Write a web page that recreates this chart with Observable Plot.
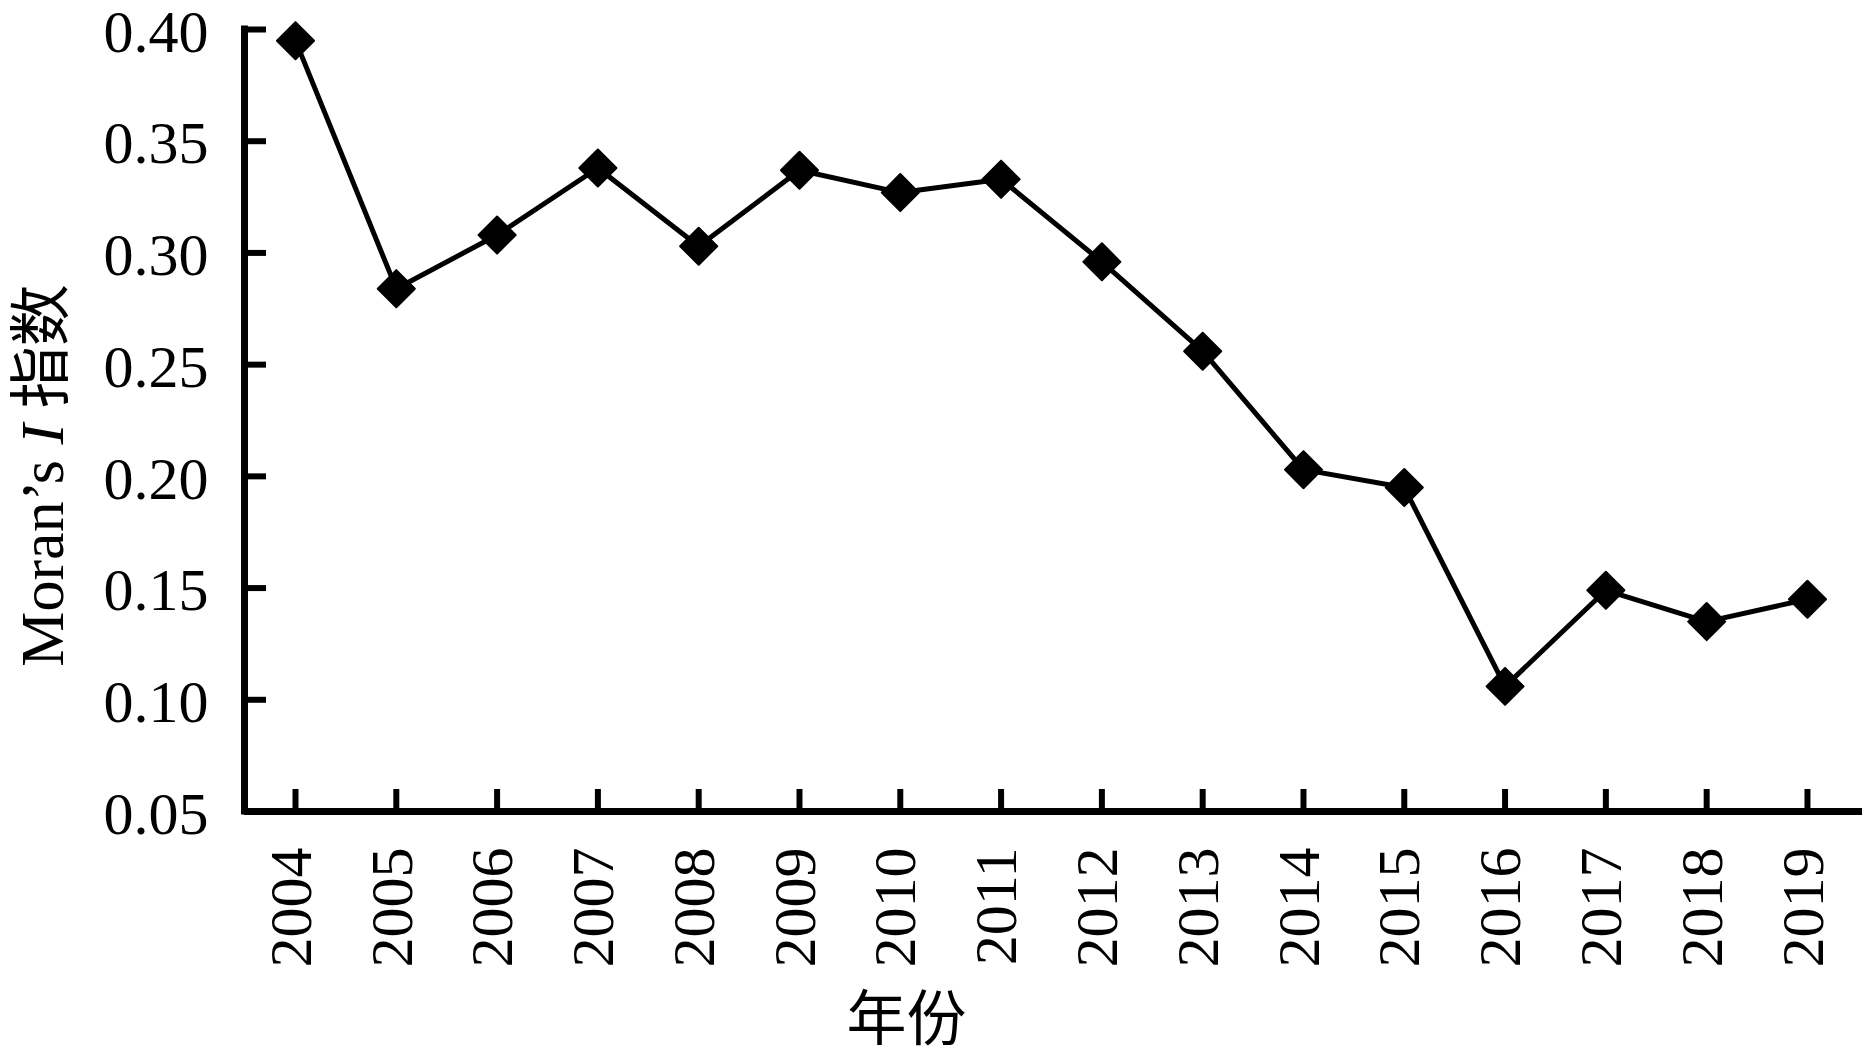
<!DOCTYPE html>
<html>
<head>
<meta charset="utf-8">
<script src="https://cdn.jsdelivr.net/npm/d3@7"></script>
<script src="https://cdn.jsdelivr.net/npm/@observablehq/plot@0.6"></script>
<style>
  html, body { margin: 0; padding: 0; background: #fff; }
  #chart { width: 1872px; height: 1057px; }
</style>
</head>
<body>
<div id="chart"></div>
<script>
// ---- data ----
const years = [2004, 2005, 2006, 2007, 2008, 2009, 2010, 2011, 2012, 2013, 2014, 2015, 2016, 2017, 2018, 2019];
const moranI = [0.395, 0.284, 0.308, 0.338, 0.303, 0.337, 0.327, 0.333, 0.296, 0.256, 0.203, 0.195, 0.106, 0.149, 0.135, 0.145];
const yTicks = [0.05, 0.10, 0.15, 0.20, 0.25, 0.30, 0.35, 0.40];
const xDomain = [2003.494, 2019.546];
const yDomain = [0.05, 0.40];
const yLabel = "Moran’s I 指数";
const xLabel = "年份";

const data = years.map((year, i) => ({year, value: moranI[i]}));

const W = 1872, H = 1057;
const mL = 244, mR = 10, mT = 29, mB = 246;
const frameW = W - mL - mR, frameH = H - mT - mB;
const tickLen = 22;

const chart = Plot.plot({
  width: W,
  height: H,
  marginLeft: mL,
  marginRight: mR,
  marginTop: mT,
  marginBottom: mB,
  style: {
    fontFamily: "'Liberation Serif', 'Times New Roman', 'Noto Sans CJK SC', serif",
    fontSize: "60px",
    color: "black",
    background: "white"
  },
  x: {domain: xDomain},
  y: {domain: yDomain},
  marks: [
    // axis lines
    Plot.ruleY([yDomain[0]], {stroke: "black", strokeWidth: 7}),
    Plot.ruleX([xDomain[0]], {stroke: "black", strokeWidth: 7, strokeLinecap: "square"}),
    // inward ticks
    Plot.tickX(years, {x: d => d, insetTop: frameH - tickLen, stroke: "black", strokeWidth: 6}),
    Plot.tickY(yTicks, {y: d => d, insetRight: frameW - tickLen, stroke: "black", strokeWidth: 6}),
    // tick labels
    Plot.axisY({ticks: yTicks, tickSize: 0, tickPadding: 36, dy: 3, tickFormat: d3.format(".2f"), label: null, fontSize: 60}),
    Plot.axisX({ticks: years, tickSize: 0, tickPadding: 36, tickRotate: -90, textAnchor: "end", lineAnchor: "middle",
                dx: -4, tickFormat: d3.format("d"), label: null, fontSize: 60}),
    // series
    Plot.line(data, {x: "year", y: "value", stroke: "black", strokeWidth: 5}),
    Plot.dot(data, {x: "year", y: "value", symbol: "diamond2", r: 16.7, fill: "black",
                    stroke: "black", strokeWidth: 2, strokeLinejoin: "round"}),
    // axis titles
    Plot.text([yLabel], {frameAnchor: "left", rotate: -90, dx: 43 - mL, dy: 475 - (mT + frameH / 2),
                         fontSize: 62, textAnchor: "middle", lineAnchor: "middle"}),
    Plot.text([xLabel], {frameAnchor: "bottom", dx: 906 - (mL + frameW / 2), dy: 1020 - (mT + frameH),
                         fontSize: 60, textAnchor: "middle", lineAnchor: "middle"})
  ]
});

// italic "I" in the y-axis title
chart.querySelectorAll("text").forEach(t => {
  if (t.textContent === yLabel) {
    const ns = "http://www.w3.org/2000/svg";
    while (t.firstChild) t.removeChild(t.firstChild);
    t.appendChild(document.createTextNode("Moran’s "));
    const it = document.createElementNS(ns, "tspan");
    it.setAttribute("font-style", "italic");
    it.textContent = "I";
    t.appendChild(it);
    t.appendChild(document.createTextNode(" 指数"));
  }
});

document.getElementById("chart").appendChild(chart);
</script>
</body>
</html>
